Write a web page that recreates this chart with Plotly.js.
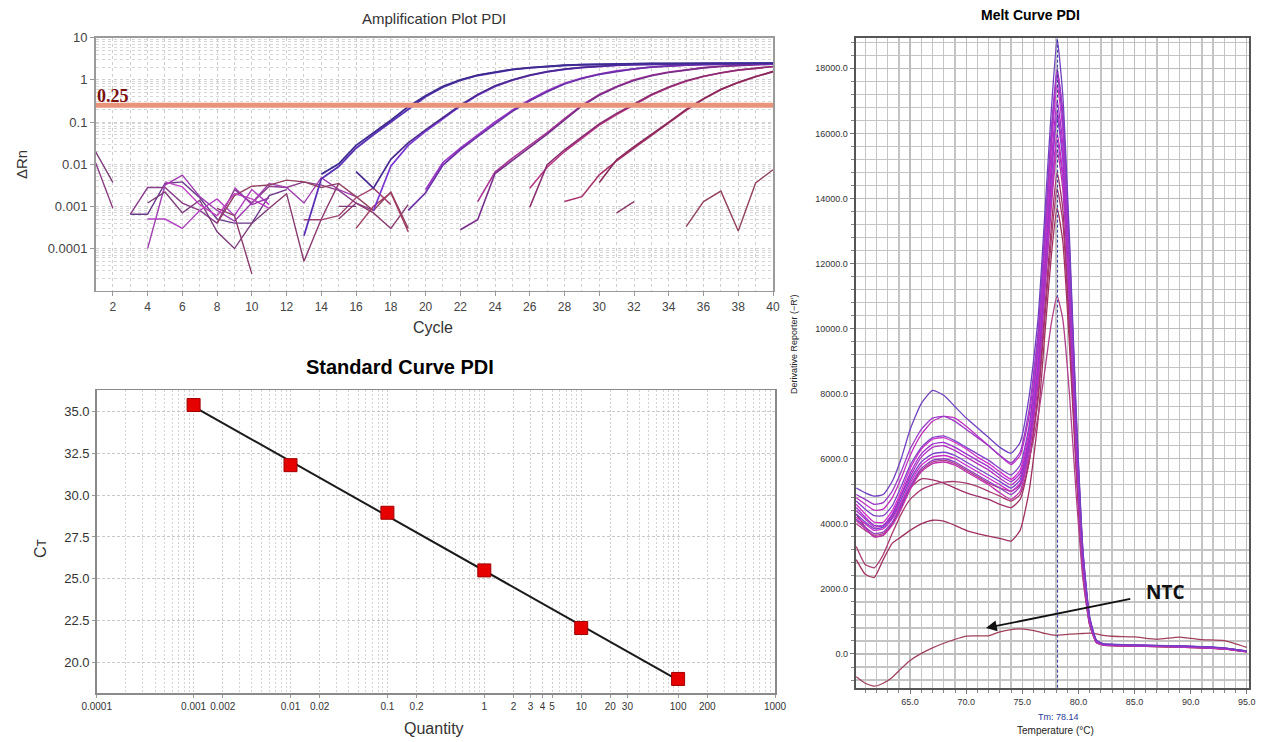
<!DOCTYPE html>
<html><head><meta charset="utf-8">
<script src="https://cdn.plot.ly/plotly-3.0.1.min.js"></script>
<style>html,body{margin:0;padding:0;background:#fff}#chart{width:1270px;height:742px}</style>
</head><body><div id="chart"></div>
<script>
const W = 1270, H = 742;

// ---------- Amplification plot (ΔRn per cycle, each array starts at the cycle given) ----------
const cycleTicks = [2,4,6,8,10,12,14,16,18,20,22,24,26,28,30,32,34,36,38,40];
const rnTicks = [10, 1, 0.1, 0.01, 0.001, 0.0001];
const rnTickText = ['10','1','0.1','0.01','0.001','0.0001'];
const threshold = 0.25;

const ampA1 = [0.0058,0.0102,0.028,0.055,0.11,0.23,0.42,0.70,1.00,1.30,1.55,1.78,1.95,2.10,2.22,2.30,2.36,2.40,2.43,2.45,2.46,2.47,2.48,2.48,2.49,2.49,2.50];
const ampA2 = [0.0002,0.0045,0.0088,0.024,0.050,0.10,0.21,0.40,0.67,0.97,1.27,1.52,1.75,1.93,2.08,2.20,2.28,2.34,2.38,2.41,2.43,2.44,2.45,2.46,2.46,2.47,2.47,2.47];
const ampB1 = [0.0067,0.0027,0.013,0.032,0.065,0.13,0.25,0.45,0.72,1.00,1.30,1.57,1.80,1.98,2.12,2.22,2.30,2.35,2.38,2.40,2.42,2.43,2.44,2.44,2.45];
const ampB2 = [0.0008,0.009,0.028,0.060,0.12,0.24,0.43,0.70,0.98,1.27,1.55,1.78,1.96,2.10,2.20,2.28,2.33,2.37,2.40,2.41,2.42,2.43,2.43,2.44];
const ampC1 = [0.0008,0.0021,0.0095,0.022,0.045,0.090,0.18,0.32,0.52,0.80,1.08,1.35,1.60,1.82,2.00,2.13,2.23,2.30,2.35,2.38,2.40,2.42];
const ampC2 = [0.0025,0.011,0.024,0.050,0.10,0.19,0.34,0.55,0.83,1.10,1.38,1.63,1.85,2.02,2.15,2.25,2.32,2.36,2.39,2.41,2.43];
const ampD1 = [0.00028,0.00048,0.0060,0.012,0.025,0.052,0.11,0.24,0.43,0.68,0.97,1.25,1.50,1.73,1.92,2.08,2.20,2.30,2.36];
const ampD2 = [0.0013,0.0065,0.014,0.028,0.056,0.12,0.25,0.45,0.70,1.00,1.28,1.53,1.76,1.95,2.10,2.22,2.31,2.37];
const ampE1 = [0.00095,0.0097,0.022,0.045,0.090,0.16,0.27,0.45,0.68,0.95,1.22,1.48,1.72,1.92,2.08];
const ampE2 = [0.0027,0.0085,0.020,0.042,0.085,0.15,0.26,0.43,0.66,0.93,1.20,1.46,1.70,1.90,2.05];
const ampF1 = [0.0037,0.0127,0.026,0.050,0.10,0.20,0.36,0.60,0.88,1.20,1.55];
const ampF2 = [0.0013,0.0017,0.0056,0.012,0.024,0.047,0.095,0.19,0.35,0.58,0.86,1.18,1.60];
const ampS1 = [0.0007,0.0013];
const ampNTC = [0.00033,0.0013,0.0023,0.00026,0.0036,0.0074];
const noise1 = [0.02,0.0037];
const noise2 = [0.011,0.0009];
const noise3 = [0.00065,0.00065,0.0035,0.0038,0.0016,0.0005,0.0004,0.0004,0.0018,0.0025];
const noise4 = [0.00065,0.0028,0.0028,0.0012,0.0008,0.0004,0.0025,0.0012,0.0030,0.0028,0.0038,0.0032,0.0024,0.0012,0.0008];
const noise5 = [0.0001,0.0032,0.0055,0.0017,0.0008,0.00045,0.0012,0.0035,0.0028,0.0012,0.0048,0.0025,0.0017];
const noise6 = [0.0012,0.0022,0.0007,0.0014,0.00025,0.0001,0.0004,0.0009];
const noise7 = [0.0005,0.0005,0.0003,0.0008,0.0015,0.0006,0.0025,0.0011];
const noise8 = [0.0004,0.0018,0.0030,0.0032,0.0042,0.0038,0.0028,0.0035,0.0017,0.0008,0.0022,0.0003];
const noise9 = [0.0009,0.0006,0.000025];
const noise10 = [0.0009,0.002,0.00005,0.0005,0.0035];
const noise11 = [0.00048,0.00048,0.0006,0.0016,0.0027,0.0011];
const noise12 = [0.001,0.001];
const noise13 = [0.0005,0.0012,0.0007,0.0003,0.0011];
const noise14 = [0.0003,0.0010,0.0021,0.00025];
const noise15 = [0.0038,0.0029,0.0011,0.0006,0.0020,0.0015,0.0009];
const noise16 = [0.0028,0.0011,0.0016];

// ---------- Standard curve ----------
const stdQuantity = [0.001, 0.01, 0.1, 1, 10, 100];
const stdCt = [35.4, 31.8, 28.95, 25.5, 22.05, 19.0];
const quantityTicks = [0.0001,0.001,0.002,0.01,0.02,0.1,0.2,1,2,3,4,5,10,20,30,100,200,1000];
const quantityTickText = ['0.0001','0.001','0.002','0.01','0.02','0.1','0.2','1','2','3','4','5','10','20','30','100','200','1000'];

// ---------- Melt curve ----------
const meltT = [60.2,61,61.8,62.6,63.4,64.2,65,66,67,68,69,70,71,72,73,74,74.8,75.6,76.4,77,77.6,78.1,78.6,79.2,79.8,80.4,81,81.6,82.2,83,85,87,89,91,93,95];
const melt1 = [5100,4950,4850,4900,5300,6000,6900,7700,8100,7950,7600,7250,6950,6650,6350,6170,6500,7900,10300,13500,16800,18900,17200,12800,7500,3200,1150,430,320,300,280,265,250,225,190,90];
const melt2 = [4900,4750,4600,4650,5000,5600,6300,6900,7250,7300,7150,6900,6650,6400,6100,5870,6200,7500,9900,13000,16200,18000,16600,12300,7200,3100,1100,420,310,290,275,260,245,220,185,85];
const melt3 = [4800,4600,4420,4450,4800,5400,6100,6750,7150,7300,7250,7000,6700,6400,6100,5820,6100,7300,9700,12800,16000,17900,16700,12500,7300,3150,1120,410,300,285,270,255,240,215,180,80];
const melt4 = [4700,4450,4250,4250,4550,5150,5800,6350,6650,6700,6550,6350,6150,5950,5700,5500,5800,7000,9500,12700,15900,17800,16400,12200,7100,3050,1100,420,310,290,275,260,245,220,185,85];
const melt5 = [4600,4300,4050,4050,4400,5000,5700,6300,6600,6650,6500,6300,6050,5850,5600,5370,5650,6850,9300,12400,15600,17500,16100,12000,7000,3000,1080,400,300,280,265,250,235,210,175,80];
const melt6 = [4500,4200,3950,3950,4300,4900,5550,6150,6450,6500,6350,6150,5950,5750,5500,5300,5550,6700,9000,12100,15200,17000,15700,11700,6800,2950,1060,400,300,280,265,250,235,210,175,80];
const melt7 = [4400,4150,3900,3950,4250,4850,5450,6050,6350,6400,6250,6050,5850,5650,5400,5200,5450,6600,8900,11900,14900,16700,15400,11500,6700,2900,1040,390,295,275,260,245,230,205,170,75];
const melt8 = [4300,4050,3850,3900,4200,4750,5350,5900,6150,6200,6100,5900,5700,5500,5300,5100,5350,6500,8800,11800,14700,16500,15200,11400,6600,2850,1020,390,295,275,260,245,230,205,170,75];
const melt9 = [4200,4000,3800,3850,4150,4650,5250,5800,6050,6100,6000,5800,5600,5400,5200,5000,5250,6400,8600,11500,14300,16000,14800,11100,6450,2800,1000,380,290,270,255,240,225,200,165,75];
const melt10 = [4150,3900,3700,3750,4050,4550,5150,5700,5950,6000,5900,5700,5500,5300,5100,4900,5150,6300,8500,11300,14100,15800,14600,10900,6350,2750,990,380,290,270,255,240,225,200,165,75];
const melt11 = [4100,3850,3600,3650,3950,4450,5050,5600,5850,5900,5800,5600,5400,5200,4950,4750,5000,6150,8300,11100,13800,15500,14300,10700,6200,2700,970,370,285,265,250,235,220,195,160,70];
const melt12 = [4300,3900,3600,3650,4000,4600,5100,5380,5350,5250,5100,4950,4850,4750,4600,4500,4750,5900,8000,10600,13200,14800,13700,10200,5900,2600,950,370,285,265,250,235,220,195,160,70];
const melt13 = [3300,2750,2650,3050,3700,4300,4750,5050,5200,5280,5300,5250,5150,5000,4850,4700,4900,5900,7800,10300,12800,14300,13300,9900,5800,2550,930,360,280,260,245,230,215,190,155,70];
const melt14 = [2900,2450,2350,2900,3400,3600,3800,4000,4110,4080,3950,3800,3700,3620,3550,3470,3800,5000,7200,9800,12300,13700,12700,9500,5600,2450,900,350,275,255,240,225,210,185,150,65];
const melt15 = [4000,3800,3650,3700,4000,4500,5100,5650,5900,5950,5850,5650,5450,5250,5100,5000,5200,6000,7300,8700,10200,11000,10300,8000,4900,2300,880,350,275,255,240,225,210,185,150,65];
const meltNTC = [-700,-900,-990,-900,-720,-450,-200,20,190,330,450,550,555,560,680,750,770,740,690,630,590,575,590,610,620,630,640,620,575,545,525,450,520,440,410,200];
const tmValue = 78.14;

// ---------- traces ----------
const traces = [];
function amp(start, vals, color, w){
  traces.push({type:'scatter', mode:'lines', x: vals.map((_,i)=>start+i), y: vals,
    xaxis:'x', yaxis:'y', line:{color:color, width:w||1.4}, hoverinfo:'skip'});
}
amp(1, noise1, '#7a3a78'); amp(1, noise2, '#8a3a80');
amp(3, noise3, '#6a3a8a'); amp(3, noise4, '#8a3d8a'); amp(4, noise5, '#a040b0');
amp(4, noise6, '#7a3a7a'); amp(4, noise7, '#b040c0'); amp(8, noise8, '#904060');
amp(8, noise9, '#8a3a6a'); amp(11, noise10, '#8a3a70'); amp(13, noise11, '#a04070');
amp(15, noise12, '#7a3a80'); amp(15, noise13, '#8a3a70'); amp(16, noise14, '#a03a60');
amp(5, noise15, '#c040c0'); amp(9, noise16, '#9a38b0');
amp(35, ampNTC, '#93405e'); amp(31, ampS1, '#8a3a6a');
amp(28, ampF2, '#a83068', 1.6); amp(30, ampF1, '#8a2a5c', 1.6);
amp(26, ampE2, '#b83585', 1.6); amp(26, ampE1, '#8a2d70', 1.6);
amp(23, ampD2, '#a83595', 1.6); amp(22, ampD1, '#7a2d8a', 1.6);
amp(20, ampC2, '#9b33c8', 1.7); amp(19, ampC1, '#6b2fa8', 1.7);
amp(17, ampB2, '#7a35d0', 1.7); amp(16, ampB1, '#4a2a90', 1.7);
amp(13, ampA2, '#5a2fb5', 1.8); amp(14, ampA1, '#3d2b8f', 1.8);
traces.push({type:'scatter', mode:'lines', x:[1,40], y:[threshold,threshold], xaxis:'x', yaxis:'y',
  line:{color:'#e8937a', width:5}, hoverinfo:'skip'});

// standard curve regression (least squares on log10 quantity)
const lq = stdQuantity.map(Math.log10);
const mx = lq.reduce((a,b)=>a+b,0)/lq.length, my = stdCt.reduce((a,b)=>a+b,0)/stdCt.length;
let sxy=0, sxx=0; lq.forEach((v,i)=>{sxy+=(v-mx)*(stdCt[i]-my); sxx+=(v-mx)*(v-mx);});
const slope = sxy/sxx, icpt = my - slope*mx;
const fitX = [Math.min(...stdQuantity), Math.max(...stdQuantity)];
traces.push({type:'scatter', mode:'lines', x: fitX, y: fitX.map(q=>icpt+slope*Math.log10(q)),
  xaxis:'x2', yaxis:'y2', line:{color:'#1a1a1a', width:2}, hoverinfo:'skip'});
traces.push({type:'scatter', mode:'markers', x: stdQuantity, y: stdCt, xaxis:'x2', yaxis:'y2',
  marker:{symbol:'square', size:13, color:'#e60000', line:{color:'#a00000', width:1}}, hoverinfo:'skip'});

// melt curves
function melt(vals, color, w){
  traces.push({type:'scatter', mode:'lines', x: meltT, y: vals, xaxis:'x3', yaxis:'y3',
    line:{color:color, width:w||1.3, shape:'spline', smoothing:0.5}, hoverinfo:'skip'});
}
melt(meltNTC, '#a0405a', 1.3);
const meltSet = [melt14, melt13, melt12, melt15, melt11, melt10, melt9, melt8, melt7, melt6, melt5, melt4, melt3, melt2, melt1];
const meltColors = ['#a03060','#a83a70','#a0306a','#b0408a','#c030b0','#9040c0','#c828c8','#7a40c8','#b030c0','#a030d0','#d030c8','#8040c8','#c030c0','#9a38c8','#7040c0'];
meltSet.forEach((v,i)=>melt(v, meltColors[i]));

// ---------- layout ----------
function P(x,y){ return {x:x/W, y:1-y/H}; }
function ann(text, xpx, ypx, font, extra){
  const p = P(xpx,ypx);
  return Object.assign({text:text, xref:'paper', yref:'paper', x:p.x, y:p.y, showarrow:false,
    xanchor:'center', yanchor:'middle', font:font}, extra||{});
}
const arial = 'Arial, Liberation Sans, sans-serif';
const dotGrid = '#cfcfcf';
const arrowHead = P(986, 628);

const layout = {
  width: W, height: H, margin:{l:0,r:0,t:0,b:0}, showlegend:false,
  paper_bgcolor:'#ffffff', plot_bgcolor:'#ffffff',
  xaxis:{domain:[95.5/W, 773/W], anchor:'y', range:[1,40], tickmode:'array', tickvals:cycleTicks,
    ticks:'outside', ticklen:4, tickcolor:'#999', tickfont:{family:arial, size:12, color:'#444'},
    showgrid:true, gridcolor:dotGrid, griddash:'dot', gridwidth:1,
    minor:{dtick:1, showgrid:true, gridcolor:dotGrid, griddash:'dot', gridwidth:1},
    showline:true, linecolor:'#9a9a9a', linewidth:1.5, mirror:true, zeroline:false, fixedrange:true},
  yaxis:{domain:[1-290.7/H, 1-37.7/H], anchor:'x', type:'log', range:[-5,1], tickmode:'array',
    tickvals:rnTicks, ticktext:rnTickText, ticks:'outside', ticklen:4, tickcolor:'#999',
    tickfont:{family:arial, size:13, color:'#444'},
    showgrid:true, gridcolor:dotGrid, griddash:'dot',
    minor:{dtick:'D1', showgrid:true, gridcolor:'#d6d6d6', griddash:'dot', gridwidth:1},
    showline:true, linecolor:'#9a9a9a', linewidth:1.5, mirror:true, zeroline:false, fixedrange:true},

  xaxis2:{domain:[96.7/W, 775/W], anchor:'y2', type:'log', range:[-4,3], tickmode:'array',
    tickvals:quantityTicks, ticktext:quantityTickText, ticks:'outside', ticklen:3, tickcolor:'#999',
    tickfont:{family:arial, size:10, color:'#333'},
    showgrid:true, gridcolor:'#cdcdcd', griddash:'2px,2px', gridwidth:1,
    minor:{dtick:'D1', showgrid:true, gridcolor:'#d4d4d4', griddash:'2px,2px', gridwidth:1},
    showline:true, linecolor:'#8a8a8a', linewidth:1.5, mirror:true, zeroline:false},
  yaxis2:{domain:[1-693.3/H, 1-390/H], anchor:'x2', range:[18.14,36.3], tick0:20, dtick:2.5,
    tickformat:'.1f', ticks:'outside', ticklen:3, tickcolor:'#999',
    tickfont:{family:arial, size:13, color:'#333'},
    showgrid:true, gridcolor:'#c8c8c8', griddash:'3px,2px', gridwidth:1,
    showline:true, linecolor:'#8a8a8a', linewidth:1.5, mirror:true, zeroline:false},

  xaxis3:{domain:[855.7/W, 1249/W], anchor:'y3', range:[60.15,95.2], tick0:65, dtick:5,
    tickformat:'.1f', ticks:'outside', ticklen:4, tickcolor:'#777',
    tickfont:{family:arial, size:9, color:'#333'},
    showgrid:true, gridcolor:'#bdbdbd', gridwidth:1.3,
    minor:{dtick:1, showgrid:true, gridcolor:'#c4c4c4', gridwidth:1.3, ticks:'outside', ticklen:3, tickcolor:'#888'},
    showline:true, linecolor:'#555', linewidth:2, mirror:true, zeroline:false},
  yaxis3:{domain:[1-687.7/H, 1-37.7/H], anchor:'x3', range:[-1036,18940], tick0:0, dtick:2000,
    tickformat:'.1f', ticks:'outside', ticklen:4, tickcolor:'#777',
    tickfont:{family:arial, size:9, color:'#333'},
    showgrid:true, gridcolor:'#bdbdbd', gridwidth:1.3,
    minor:{dtick:400, showgrid:true, gridcolor:'#c4c4c4', gridwidth:1.3, ticks:'outside', ticklen:3, tickcolor:'#888'},
    showline:true, linecolor:'#555', linewidth:2, mirror:true, zeroline:false},

  shapes:[{type:'line', xref:'x3', yref:'y3 domain', x0:tmValue, x1:tmValue, y0:0, y1:1,
    line:{color:'#2a3a9a', width:1, dash:'3px,2px'}}],

  annotations:[
    ann('Amplification Plot PDI', 434, 19, {family:arial, size:15, color:'#333'}),
    ann('Cycle', 433, 327, {family:arial, size:16, color:'#333'}),
    ann('ΔRn', 22, 165, {family:arial, size:15, color:'#333'}, {textangle:-90}),
    ann('0.25', 95, 96, {family:'Liberation Serif, Times New Roman, serif', size:18, color:'#7a1010', weight:'bold'}, {xanchor:'left'}),
    ann('<b>Standard Curve PDI</b>', 400, 367, {family:arial, size:20, color:'#000'}),
    ann('Quantity', 434, 728, {family:arial, size:16, color:'#333'}),
    ann('Cᴛ', 40, 548, {family:'Arial, Liberation Sans, DejaVu Sans, sans-serif', size:16, color:'#333'}, {textangle:-90}),
    ann('<b>Melt Curve PDI</b>', 1030, 15, {family:arial, size:14, color:'#000'}),
    ann('Derivative Reporter (−R′)', 794, 345, {family:arial, size:9, color:'#222'}, {textangle:-90}),
    ann('Tm: 78.14', 1058, 717, {family:arial, size:9, color:'#2a3a9a'}),
    ann('Temperature (°C)', 1055, 730, {family:arial, size:10, color:'#222'}),
    {text:'<b>NTC</b>', xref:'paper', yref:'paper', x:arrowHead.x, y:arrowHead.y, ax:179, ay:-36,
      showarrow:true, arrowhead:2, arrowsize:1.2, arrowwidth:1.8, arrowcolor:'#111',
      standoff:0, startstandoff:14, font:{family:'Open Sans, Lato, sans-serif', size:19, color:'#111'}}
  ]
};

Plotly.newPlot('chart', traces, layout, {staticPlot:true, displayModeBar:false});
</script>
</body></html>
